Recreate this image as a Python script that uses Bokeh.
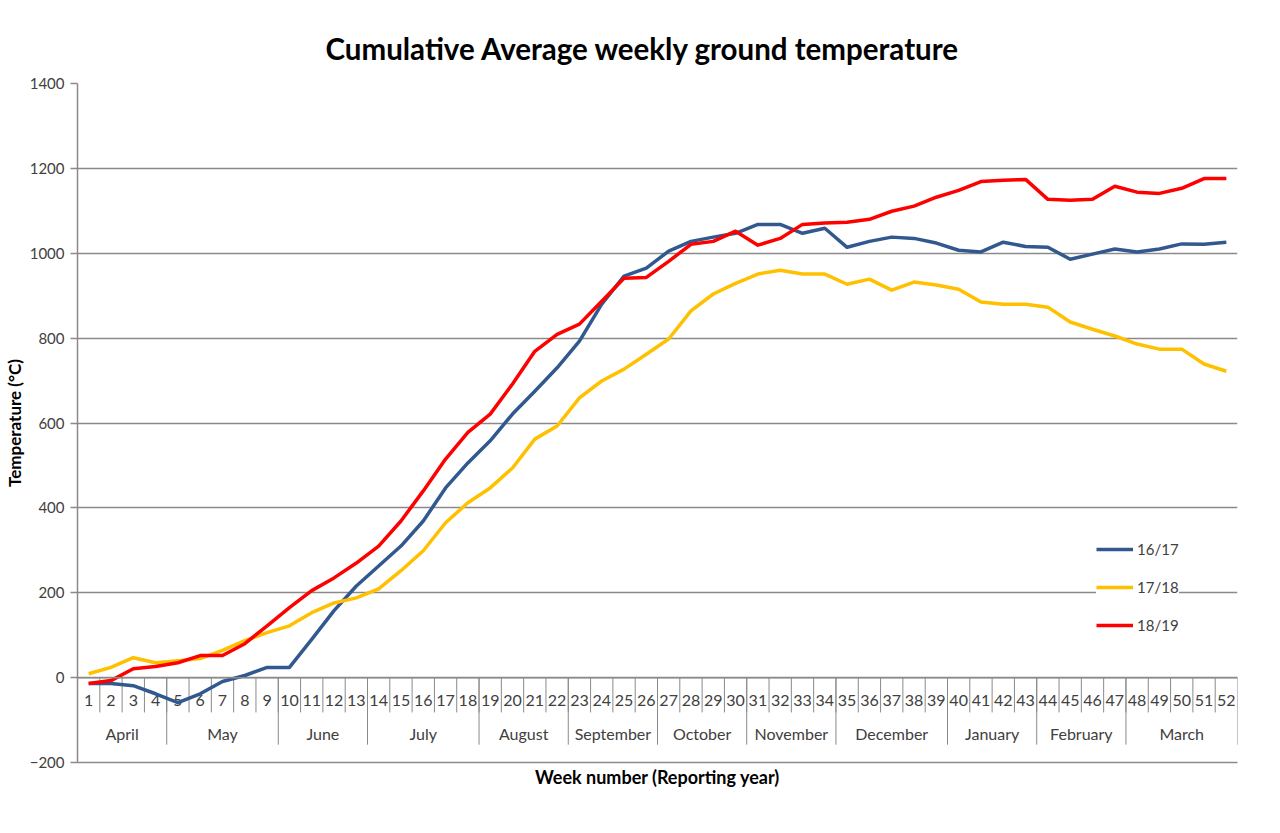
from bokeh.plotting import figure
from bokeh.models import Legend, LegendItem, FixedTicker, Range1d
from bokeh.core.properties import value
from bokeh.embed import file_html
from bokeh.resources import INLINE

# ---------------- data ----------------
weeks = list(range(1, 53))
week_labels = [str(w) for w in weeks]

months = ["April", "May", "June", "July", "August", "September", "October",
          "November", "December", "January", "February", "March"]
month_first_week = [1, 5, 10, 14, 19, 23, 27, 31, 35, 40, 44, 48]
month_last_week = [4, 9, 13, 18, 22, 26, 30, 34, 39, 43, 47, 52]

s1617 = [-14, -14, -19, -38, -59, -38, -9, 5, 24, 24, 90, 158, 216, 263, 310, 369,
         447, 506, 558, 621, 675, 730, 793, 880, 946, 965, 1005, 1028, 1038, 1047,
         1068, 1068, 1047, 1059, 1014, 1028, 1038, 1035, 1024, 1007, 1003, 1026,
         1016, 1014, 986, 998, 1010, 1003, 1010, 1022, 1021, 1026]
s1718 = [9, 24, 47, 35, 40, 45, 64, 87, 106, 122, 153, 176, 188, 209, 252, 299,
         365, 412, 447, 494, 562, 593, 659, 699, 727, 762, 798, 864, 904, 929,
         951, 960, 951, 951, 927, 939, 913, 932, 925, 915, 885, 880, 880, 873,
         838, 821, 805, 786, 774, 774, 739, 722]
s1819 = [-14, -7, 21, 26, 35, 52, 52, 80, 122, 165, 205, 235, 270, 310, 369, 440,
         515, 578, 621, 692, 769, 809, 833, 887, 941, 943, 981, 1021, 1028, 1052,
         1019, 1035, 1068, 1071, 1073, 1080, 1099, 1111, 1132, 1148, 1169, 1172,
         1174, 1127, 1125, 1127, 1158, 1144, 1141, 1153, 1176, 1176]

series_names = ["16/17", "17/18", "18/19"]
y_ticks = [-200, 0, 200, 400, 600, 800, 1000, 1200, 1400]

# ---------------- style ----------------
FONT = "Lato"
GRID = "#8a8a8a"
TXT = "#404040"
colors = ["#31598f", "#ffc000", "#ff0000"]

p = figure(width=1275, height=825, output_backend="svg", toolbar_location=None,
           x_range=Range1d(0.5, 52.5), y_range=Range1d(-200, 1400),
           min_border_left=77, min_border_right=38, min_border_top=83,
           min_border_bottom=63)
p.outline_line_color = None
p.background_fill_color = "white"
p.border_fill_color = "white"

p.title.text = "Cumulative Average weekly ground temperature"
p.title.text_font = FONT
p.title.text_font_size = "29.5px"
p.title.text_font_style = "bold"
p.title.text_color = "#000000"
p.title.align = "left"
p.title.offset = 248
p.title.standoff = 36

# y axis
yax = p.yaxis[0]
yax.ticker = FixedTicker(ticks=y_ticks)
yax.axis_label = "Temperature (°C)"
yax.axis_label_text_font = FONT
yax.axis_label_text_font_size = "17px"
yax.axis_label_text_font_style = "bold"
yax.axis_label_text_color = "#000000"
yax.axis_label_standoff = 2
yax.major_label_text_font = FONT
yax.major_label_text_font_size = "15px"
yax.major_label_text_color = TXT
yax.major_label_standoff = 6
yax.axis_line_color = GRID
yax.axis_line_width = 1.5
yax.major_tick_line_color = GRID
yax.major_tick_line_width = 1.5
yax.major_tick_out = 7
yax.major_tick_in = 0
yax.minor_tick_line_color = None

# x axis (bottom line + title only)
xax = p.xaxis[0]
xax.ticker = FixedTicker(ticks=[])
xax.axis_label = "Week number (Reporting year)"
xax.axis_label_text_font = FONT
xax.axis_label_text_font_size = "18px"
xax.axis_label_text_font_style = "bold"
xax.axis_label_text_color = "#000000"
xax.axis_label_standoff = 3
xax.axis_line_color = GRID
xax.axis_line_width = 1.5
xax.major_tick_line_color = None
xax.minor_tick_line_color = None
xax.major_label_text_font_size = "0px"

p.xgrid.grid_line_color = None
p.ygrid.ticker = FixedTicker(ticks=y_ticks)
p.ygrid.grid_line_color = GRID
p.ygrid.grid_line_width = 1.5

# ---------------- category table on the zero line ----------------
week_sep_x = [w + 0.5 for w in weeks[:-1]]
p.segment(x0=week_sep_x, y0=[0] * len(week_sep_x), x1=week_sep_x,
          y1=[-82] * len(week_sep_x), line_color=GRID, line_width=1)
month_sep_x = [m - 0.5 for m in month_first_week[1:]] + [52.5]
p.segment(x0=month_sep_x, y0=[0] * len(month_sep_x), x1=month_sep_x,
          y1=[-158] * len(month_sep_x), line_color=GRID, line_width=1)

p.text(x=weeks, y=[-55] * len(weeks), text=week_labels, text_font=value(FONT),
       text_font_size="16px", text_color=TXT, text_align="center",
       text_baseline="middle")
month_center = [(a + b) / 2 for a, b in zip(month_first_week, month_last_week)]
p.text(x=month_center, y=[-132] * len(months), text=months, text_font=value(FONT),
       text_font_size="16px", text_color=TXT, text_align="center",
       text_baseline="middle")

# ---------------- series ----------------
renderers = []
for data, col in zip([s1617, s1718, s1819], colors):
    r = p.line(weeks, data, line_color=col, line_width=3.5, line_join="round")
    renderers.append(r)

# zero line (category axis baseline)
p.line(x=[0.5, 52.5], y=[0, 0], line_color=GRID, line_width=1.5)

legend = Legend(items=[LegendItem(label=n, renderers=[r])
                       for n, r in zip(series_names, renderers)],
                location=(1019, 127), orientation="vertical")
legend.label_text_font = FONT
legend.label_text_font_size = "15px"
legend.label_text_color = TXT
legend.glyph_width = 37
legend.glyph_height = 20
legend.label_height = 20
legend.label_standoff = 4
legend.spacing = 18
legend.padding = 12
legend.margin = 0
legend.border_line_color = None
legend.background_fill_color = "white"
legend.background_fill_alpha = 1
p.add_layout(legend, "center")

open("out.html", "w").write(file_html(p, INLINE))
